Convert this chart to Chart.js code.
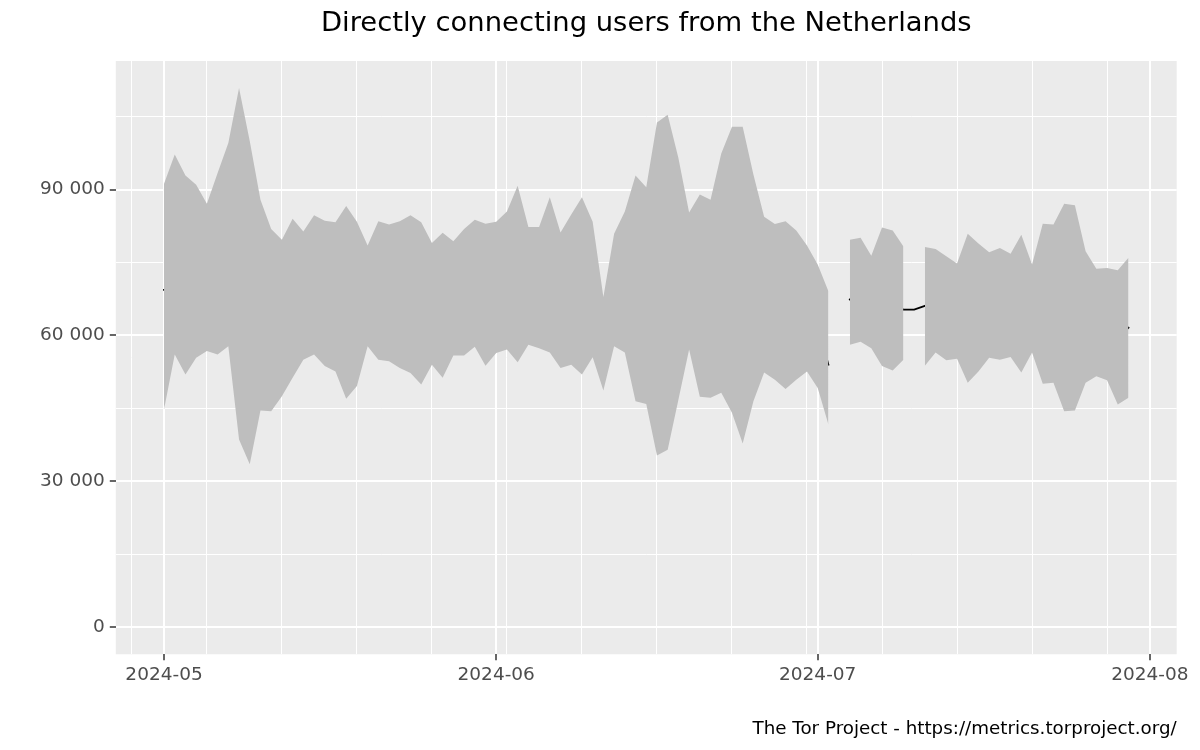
<!DOCTYPE html>
<html>
<head>
<meta charset="utf-8">
<script src="https://cdn.jsdelivr.net/npm/chart.js@4.4.1/dist/chart.umd.min.js"></script>
<style>
  html, body { margin: 0; padding: 0; background: #ffffff; }
  #wrap { width: 1200px; height: 750px; }
</style>
</head>
<body>
<div id="wrap"><canvas id="c" width="1200" height="750"></canvas></div>
<script>
// ---- Data ----
const startDate = '2024-05-01';          // first day of the series (day index 0)
const dayCount = 91;                     // 2024-05-01 .. 2024-07-30

const upperValues = [
  91200, 97200, 92900, 91000, 87100, 93400, 99600, 110900, 100000, 87900,
  81900, 79700, 84000, 81400, 84700, 83600, 83300, 86600, 83400, 78500,
  83500, 82800, 83500, 84700, 83300, 79000, 81100, 79400, 81900, 83800,
  83000, 83400, 85500, 90800, 82300, 82300, 88400, 81200, 84900, 88400,
  83400, 67900, 80900, 85500, 92900, 90500, 103800, 105400, 96500, 85300,
  89000, 87900, 97400, 102900, 102900, 93100, 84400, 82900, 83500, 81600,
  78500, 74600, 69100, null, 79700, 80100, 76400, 82200, 81600, 78300,
  null, 78200, 77800, 76300, 74800, 80900, 78900, 77100, 78000, 76800,
  80700, 74600, 83000, 82800, 87100, 86800, 77300, 73700, 73900, 73400,
  76000
];

const lowerValues = [
  44800, 56100, 52000, 55400, 56800, 56100, 57800, 38600, 33500, 44600,
  44400, 47500, 51300, 55000, 56100, 53700, 52600, 47000, 49600, 57800,
  55000, 54700, 53300, 52300, 49900, 54000, 51300, 55900, 55900, 57700,
  53800, 56400, 57100, 54500, 58100, 57400, 56500, 53300, 54000, 52000,
  55500, 48700, 57800, 56500, 46500, 45900, 35300, 36500, 46800, 57100,
  47400, 47200, 48200, 44100, 37800, 46500, 52400, 50900, 49000, 50900,
  52600, 49200, 41700, null, 58100, 58700, 57400, 53700, 52800, 55000,
  null, 53800, 56500, 54900, 55200, 50300, 52600, 55400, 55000, 55600,
  52400, 56500, 50100, 50300, 44400, 44600, 50300, 51600, 50800, 45800,
  47200
];

const userValues = [
  69400, 70200, 69000, 68800, 68100, 69500, 71000, 72500, 70500, 68200,
  66900, 66200, 67500, 68000, 69800, 68700, 67400, 66300, 66000, 68100,
  69200, 68600, 68100, 67900, 66500, 66600, 66100, 67200, 68400, 70300,
  68200, 69300, 70800, 72000, 69900, 69600, 71400, 67800, 69000, 69500,
  68800, 58600, 69100, 70200, 69400, 68100, 69300, 70600, 70900, 71300,
  67800, 67100, 72500, 73100, 70200, 69600, 68100, 66900, 66500, 66000,
  65200, 62100, 54000, null, 67400, 69200, 67000, 67800, 66900, 65300,
  65300, 66100, 66900, 65500, 65000, 65400, 65600, 66100, 66400, 66200,
  66300, 65500, 66400, 66200, 65700, 65300, 63600, 62600, 62100, 59500,
  61600
];

// x-axis breaks
const monthTickDates = ['2024-05-01', '2024-06-01', '2024-07-01', '2024-08-01'];
const monthTickLabels = ['2024-05', '2024-06', '2024-07', '2024-08'];
const weekGridDates = ['2024-04-28', '2024-05-05', '2024-05-12', '2024-05-19', '2024-05-26',
  '2024-06-02', '2024-06-09', '2024-06-16', '2024-06-23', '2024-06-30',
  '2024-07-07', '2024-07-14', '2024-07-21', '2024-07-28'];

// y-axis breaks
const yMajorTicks = [0, 30000, 60000, 90000];
const yMinorTicks = [15000, 45000, 75000, 105000];

const titleText = 'Directly connecting users from the Netherlands';
const captionText = 'The Tor Project - https://metrics.torproject.org/';

// ---- helpers ----
const DAY = 86400000;
const t0 = Date.parse(startDate + 'T00:00:00Z');
function dayIndex(s) { return Math.round((Date.parse(s + 'T00:00:00Z') - t0) / DAY); }
function pts(values) { return values.map((v, i) => ({ x: i, y: v })); }
function fmt(v) { return String(v).replace(/\B(?=(\d{3})+(?!\d))/g, ' '); }

const monthIdx = monthTickDates.map(dayIndex);
const weekIdx = weekGridDates.map(dayIndex);
const xMajorSet = new Set(monthIdx);
const yMajorSet = new Set(yMajorTicks);

const yMaxData = 110900;
const yMin = -0.05 * yMaxData;
const yMax = 1.05 * yMaxData;
const xMin = -0.05 * (dayCount - 1);
const xMax = (dayCount - 1) * 1.05;

const panelBg = {
  id: 'panelBg',
  beforeDraw(chart) {
    const { ctx, chartArea: a } = chart;
    ctx.save();
    ctx.fillStyle = '#EBEBEB';
    ctx.fillRect(a.left, a.top, a.right - a.left, a.bottom - a.top);
    ctx.restore();
  }
};

const tickFont = { family: 'DejaVu Sans', size: 18.5 };

new Chart(document.getElementById('c'), {
  type: 'line',
  data: {
    datasets: [
      {
        label: 'upper',
        data: pts(upperValues),
        borderWidth: 0,
        borderColor: 'rgba(0,0,0,0)',
        backgroundColor: '#BEBEBE',
        fill: '+1',
        pointRadius: 0,
        spanGaps: false,
        tension: 0,
        order: 0
      },
      {
        label: 'lower',
        data: pts(lowerValues),
        borderWidth: 0,
        borderColor: 'rgba(0,0,0,0)',
        backgroundColor: '#BEBEBE',
        fill: false,
        pointRadius: 0,
        spanGaps: false,
        tension: 0,
        order: 1
      },
      {
        label: 'users',
        data: pts(userValues),
        borderWidth: 1.8,
        borderColor: '#000000',
        borderCapStyle: 'square',
        fill: false,
        pointRadius: 0,
        spanGaps: false,
        tension: 0,
        order: 2
      }
    ]
  },
  options: {
    responsive: false,
    animation: false,
    devicePixelRatio: 1,
    layout: { padding: { left: 0, right: 23.3, top: 0, bottom: 0 } },
    plugins: {
      legend: { display: false },
      tooltip: { enabled: false },
      title: {
        display: true,
        fullSize: false,
        text: titleText,
        color: '#000000',
        font: { family: 'DejaVu Sans', size: 27.4, weight: 'normal' },
        padding: { top: 7.8, bottom: 20.3 }
      },
      subtitle: {
        display: true,
        text: captionText,
        position: 'bottom',
        align: 'end',
        color: '#000000',
        font: { family: 'DejaVu Sans', size: 18.3, weight: 'normal' },
        padding: { top: 13.6, bottom: 10.2 }
      }
    },
    scales: {
      x: {
        type: 'linear',
        min: xMin,
        max: xMax,
        afterBuildTicks(scale) {
          const vals = monthIdx.concat(weekIdx).sort((a, b) => a - b);
          scale.ticks = vals.map(v => ({ value: v }));
        },
        afterFit(scale) { scale.height = 50; },
        ticks: {
          autoSkip: false,
          maxRotation: 0,
          minRotation: 0,
          padding: 4,
          color: '#4D4D4D',
          font: tickFont,
          callback(value) {
            const k = monthIdx.indexOf(value);
            return k >= 0 ? monthTickLabels[k] : '';
          }
        },
        grid: {
          color: '#FFFFFF',
          lineWidth: ctx => (ctx.tick && xMajorSet.has(ctx.tick.value)) ? 2 : 1,
          tickLength: 6,
          tickColor: ctx => (ctx.tick && xMajorSet.has(ctx.tick.value)) ? '#333333' : 'rgba(0,0,0,0)',
          tickWidth: 1.5
        },
        border: { display: false }
      },
      y: {
        type: 'linear',
        min: yMin,
        max: yMax,
        afterBuildTicks(scale) {
          const vals = yMajorTicks.concat(yMinorTicks).sort((a, b) => a - b);
          scale.ticks = vals.map(v => ({ value: v }));
        },
        afterFit(scale) { scale.width = 115.8; },
        ticks: {
          autoSkip: false,
          padding: 5,
          color: '#4D4D4D',
          font: tickFont,
          callback(value) { return yMajorSet.has(value) ? fmt(value) : ''; }
        },
        grid: {
          color: '#FFFFFF',
          lineWidth: ctx => (ctx.tick && yMajorSet.has(ctx.tick.value)) ? 2 : 1,
          tickLength: 6,
          tickColor: ctx => (ctx.tick && yMajorSet.has(ctx.tick.value)) ? '#333333' : 'rgba(0,0,0,0)',
          tickWidth: 1.5
        },
        border: { display: false }
      }
    }
  },
  plugins: [panelBg]
});
</script>
</body>
</html>
